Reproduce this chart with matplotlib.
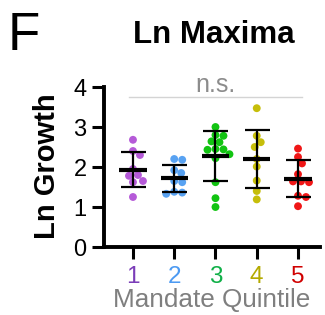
import numpy as np
import matplotlib.pyplot as plt

plt.rcParams['font.family'] = ['Liberation Sans', 'DejaVu Sans']

# values
groups = ['1', '2', '3', '4', '5']
q1 = [2.68, 2.40, 2.30, 1.95, 1.80, 1.78, 1.65, 1.62, 1.25]
q2 = [2.20, 2.18, 1.92, 1.85, 1.65, 1.62, 1.38, 1.36, 1.33]
q3 = [3.00, 2.80, 2.78, 2.64, 2.62, 2.45, 2.44, 2.43, 2.32, 2.22, 1.62, 1.22, 1.00]
q4 = [3.47, 2.78, 2.62, 2.50, 2.20, 2.01, 1.66, 1.40, 1.19]
q5 = [2.46, 2.25, 2.09, 1.82, 1.64, 1.62, 1.64, 1.28, 1.25, 1.02]
data = [q1, q2, q3, q4, q5]

dot_colors = ['#B55AD8', '#58A2F2', '#12C412', '#C6BE0A', '#F01616']
lab_colors = ['#7B3DB8', '#4C9AF2', '#10B048', '#B4AA00', '#D00000']

W, H = 325, 315
# pixel scale of the axes (for a simple beeswarm layout)
PX_X = 41.3   # px per x unit
PX_Y = 40.0   # px per y unit
DOT = 7.5     # dot diameter, px


def swarm(vals):
    # place each point as close to the centre as possible without overlap
    placed = []
    offs = np.zeros(len(vals))
    order = np.argsort(vals)[::-1]
    for i in order:
        y = vals[i] * PX_Y
        best = None
        for step in range(0, 40):
            for sgn in ([0] if step == 0 else [1, -1]):
                x = sgn * step * 1.0
                ok = all((x - px) ** 2 + (y - py) ** 2 >= DOT ** 2 for px, py in placed)
                if ok:
                    best = x
                    break
            if best is not None:
                break
        placed.append((best, y))
        offs[i] = best / PX_X
    return offs


fig = plt.figure(figsize=(W / 100, H / 100), dpi=100)
ax = fig.add_axes([104 / W, 1 - 247 / H, 216 / W, 160 / H])

for k, vals in enumerate(data):
    xc = k + 1
    vals = np.array(vals)
    xs = xc + swarm(vals)
    ax.scatter(xs, vals, s=32, color=dot_colors[k], edgecolors='none', zorder=2, clip_on=False)
    m = vals.mean()
    sd = vals.std(ddof=1)
    ax.plot([xc - 0.33, xc + 0.33], [m, m], color='black', lw=3.0, zorder=3, solid_capstyle='butt')
    ax.errorbar(xc, m, yerr=sd, fmt='none', ecolor='black', elinewidth=1.6,
                capsize=9, capthick=1.6, zorder=3)

# n.s. bracket
ax.plot([0.9, 5.09], [3.75, 3.75], color='#d4d4d4', lw=1.0, clip_on=False)
ax.text(3.01, 3.87, 'n.s.', color='#8c8c8c', fontsize=18, ha='center', va='baseline')

ax.set_xlim(0.298, 5.533)
ax.set_ylim(0, 4)
ax.set_yticks([0, 1, 2, 3, 4])
ax.set_xticks(range(1, 6))
ax.set_xticklabels(groups)
for lab, c in zip(ax.get_xticklabels(), lab_colors):
    lab.set_color(c)

for s in ['top', 'right']:
    ax.spines[s].set_visible(False)
for s in ['left', 'bottom']:
    ax.spines[s].set_linewidth(2.8)
ax.tick_params(axis='both', width=2.2, length=8.5)
ax.tick_params(axis='y', labelsize=17, pad=4)
ax.tick_params(axis='x', labelsize=17.5, pad=5)

fig.text(61 / W, 1 - 166 / H, 'Ln Growth', fontsize=21, fontweight='bold',
         rotation=90, ha='right', va='center')
fig.text(212 / W, 1 - 307 / H, 'Mandate Quintile', fontsize=18.8, color='#7f7f7f',
         ha='center', va='baseline')
fig.text(214 / W, 1 - 43 / H, 'Ln Maxima', fontsize=22.5, fontweight='bold',
         ha='center', va='baseline')
fig.text(8 / W, 1 - 50 / H, 'F', fontsize=38, ha='left', va='baseline')

fig.savefig('out.png', dpi=100)
